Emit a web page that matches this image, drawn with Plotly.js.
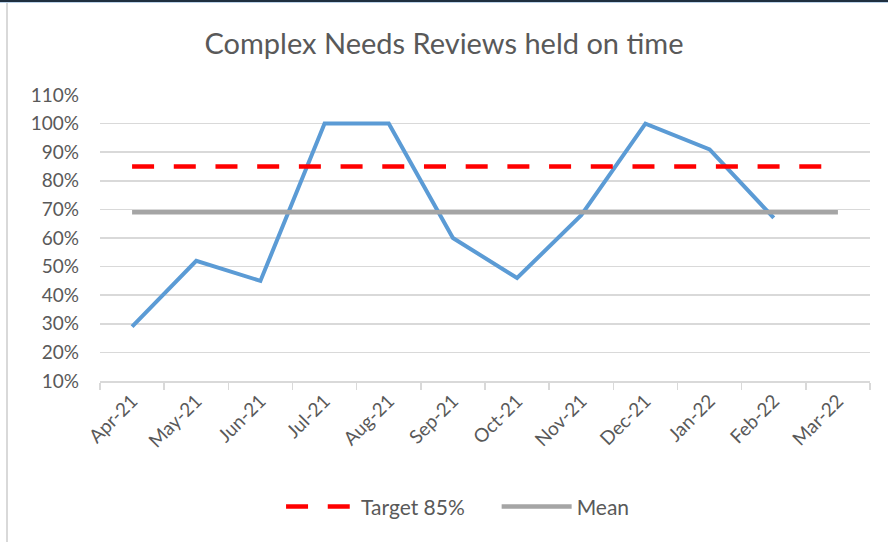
<!DOCTYPE html>
<html><head><meta charset="utf-8">
<script src="https://cdn.plot.ly/plotly-3.0.1.min.js"></script>
<style>
html,body{margin:0;padding:0;background:#fff;}
#wrap{position:relative;width:888px;height:542px;overflow:hidden;}
#topline{position:absolute;left:0;top:0;width:888px;height:2px;background:#1f2f3f;}
#topline2{position:absolute;left:0;top:2px;width:888px;height:1px;background:#bcd3ea;}
#leftline{position:absolute;left:6px;top:3px;width:2px;height:539px;background:#d9d9d9;}
#chart{position:absolute;left:0;top:0;width:888px;height:542px;}
</style></head>
<body><div id="wrap"><div id="chart"></div><div id="topline"></div><div id="topline2"></div><div id="leftline"></div></div>
<script>
const months = ["Apr-21","May-21","Jun-21","Jul-21","Aug-21","Sep-21","Oct-21","Nov-21","Dec-21","Jan-22","Feb-22","Mar-22"];
const onTime = [29,52,45,100,100,60,46,68,100,91,67,null];
const target = [85,85,85,85,85,85,85,85,85,85,85,85];
const mean = [69,69,69,69,69,69,69,69,69,69,69,69];
const yTicks = [10,20,30,40,50,60,70,80,90,100,110];
const yTickText = yTicks.map(v => v + "%");
const seriesNames = ["Reviews on time", "Target 85%", "Mean"];

const font = "Lato, 'Open Sans', sans-serif";
const grey = "#595959";
const gap = "\u00a0\u00a0\u00a0\u00a0\u00a0";

const traces = [
  {x: months, y: onTime, type: "scatter", mode: "lines", name: seriesNames[0],
   line: {color: "#5b9bd5", width: 4, shape: "linear"}, showlegend: false, connectgaps: false},
  {x: months, y: target, type: "scatter", mode: "lines", name: seriesNames[1] + gap,
   line: {color: "#ff0000", width: 4.5, dash: "22px,19.7px"}},
  {x: months, y: mean, type: "scatter", mode: "lines", name: seriesNames[2],
   line: {color: "#a5a5a5", width: 4.5}}
];

const layout = {
  width: 888, height: 542,
  margin: {l: 100, r: 18, t: 95, b: 161},
  paper_bgcolor: "#fff", plot_bgcolor: "#fff",
  title: {text: "Complex Needs Reviews held on time", font: {family: font, size: 29, color: grey}, x: 0.5, xanchor: "center", y: 0.92, yanchor: "middle"},
  xaxis: {type: "category", tickson: "boundaries", ticks: "outside", ticklen: 7, tickcolor: "#d9d9d9", tickwidth: 1.5,
    showline: true, linecolor: "#d9d9d9", linewidth: 1.5, showgrid: false, tickangle: -45,
    tickfont: {family: font, size: 19, color: grey}, range: [-0.5, 11.5]},
  yaxis: {range: [10, 110], tickvals: yTicks, ticktext: yTickText, showgrid: true, gridcolor: "#d9d9d9", gridwidth: 1.5,
    zeroline: false, showline: false, ticks: "", tickfont: {family: font, size: 19, color: grey}, ticklabelstandoff: 20},
  legend: {orientation: "h", x: 0.465, xanchor: "center", y: -0.44, yanchor: "middle",
    font: {family: font, size: 21, color: grey}, itemwidth: 70},
  showlegend: true
};

Plotly.newPlot("chart", traces, layout, {displayModeBar: false, staticPlot: true});
</script></body></html>
